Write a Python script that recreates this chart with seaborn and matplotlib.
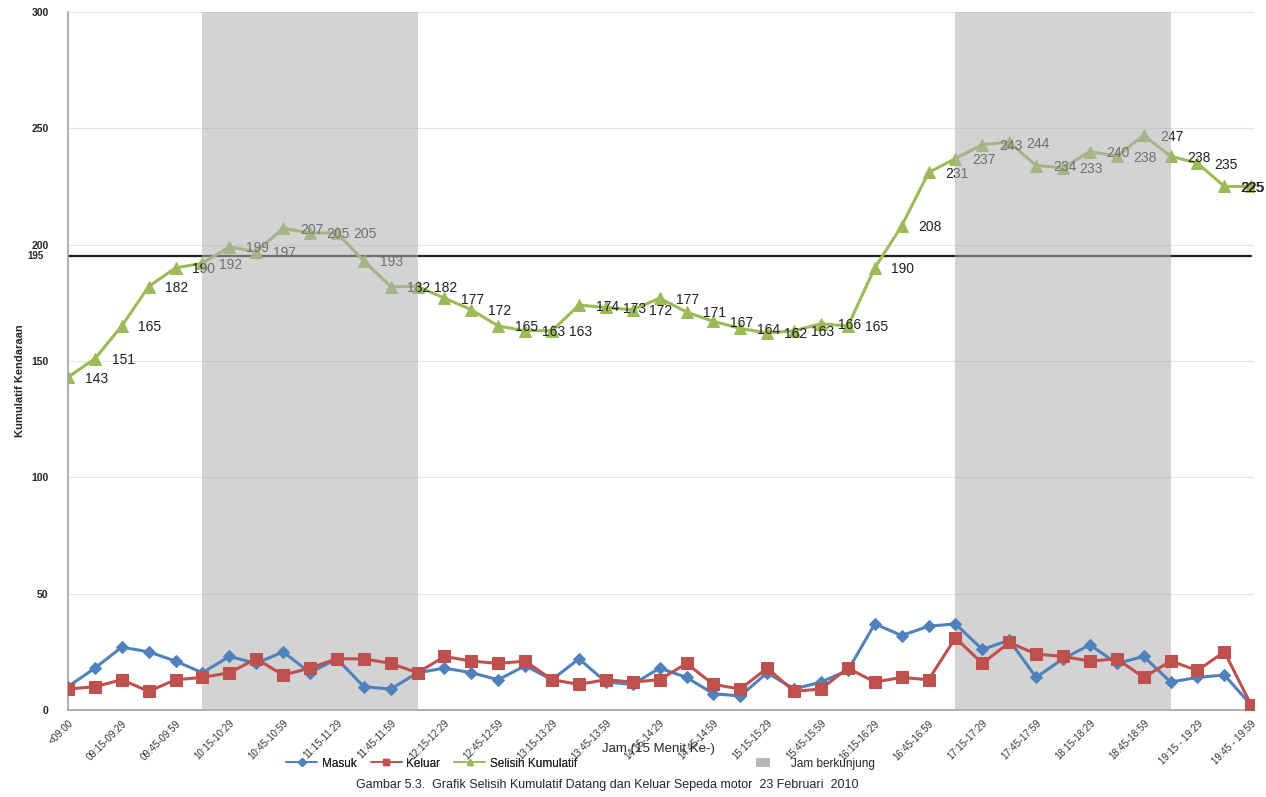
import matplotlib
matplotlib.use("Agg")
import matplotlib.pyplot as plt
from matplotlib.patches import Patch
from matplotlib.lines import Line2D
import numpy as np
import pandas as pd
import seaborn as sns

# 15-minute observation slots
slots = ["<09:00"] + [
    f"{9 + m // 60:02d}:{m % 60:02d}-{9 + m // 60:02d}:{m % 60 + 14:02d}"
    for m in range(0, 660, 15)
]
slots[-3] = "19:15 - 19:29"
slots[-1] = "19:45 - 19:59"

# Motorcycles entering / leaving per slot
masuk = [10, 18, 27, 25, 21, 16, 23, 20, 25, 16, 22, 10, 9, 16, 18, 16, 13, 19, 13, 22,
         12, 11, 18, 14, 7, 6, 16, 9, 12, 17, 37, 32, 36, 37, 26, 30, 14, 22, 28, 20,
         23, 12, 14, 15, 2]
keluar = [9, 10, 13, 8, 13, 14, 16, 22, 15, 18, 22, 22, 20, 16, 23, 21, 20, 21, 13, 11,
          13, 12, 13, 20, 11, 9, 18, 8, 9, 18, 12, 14, 13, 31, 20, 29, 24, 23, 21, 22,
          14, 21, 17, 25, 2]
# Cumulative difference (vehicles parked)
selisih = [143, 151, 165, 182, 190, 192, 199, 197, 207, 205, 205, 193, 182, 182, 177, 172,
           165, 163, 163, 174, 173, 172, 177, 171, 167, 164, 162, 163, 166, 165, 190, 208,
           231, 237, 243, 244, 234, 233, 240, 238, 247, 238, 235, 225, 225]
kapasitas = 195
# Visiting hours, as slot index ranges
jam_berkunjung = [(5, 13), (33, 41)]

df = pd.DataFrame({"slot": np.arange(len(slots)), "masuk": masuk,
                   "keluar": keluar, "selisih": selisih})
df["kapasitas"] = kapasitas

sns.set_theme(style="white")
plt.rcParams["font.family"] = ["Liberation Sans", "DejaVu Sans"]

BLUE, RED, GREEN = "#4F81BD", "#C0504D", "#9BBB59"

fig = plt.figure(figsize=(12.66, 7.97), dpi=100)
ax = fig.add_axes([0.0537, 0.1092, 0.9368, 0.8758])

# cumulative line, capacity line and labels sit under the shading
sns.lineplot(data=df, x="slot", y="kapasitas", ax=ax, color="#202020", lw=1.6, zorder=2)
sns.lineplot(data=df, x="slot", y="selisih", ax=ax, color=GREEN, lw=2.2,
             marker="^", markersize=8, markeredgecolor=GREEN, zorder=2)
n = len(selisih)
for i, v in enumerate(selisih):
    if i == n - 1:
        ax.annotate(str(v), (i, v), xytext=(9, -1), textcoords="offset points",
                    ha="right", va="center", fontsize=10, color="#202020", zorder=2,
                    annotation_clip=False)
    else:
        ax.annotate(str(v), (i, v), xytext=(12, -1), textcoords="offset points",
                    ha="left", va="center", fontsize=10, color="#202020", zorder=2)

for a, b in jam_berkunjung:
    ax.axvspan(a, b, ymin=0, ymax=1, color="#b0b0b0", alpha=0.55, lw=0, zorder=3)

sns.lineplot(data=df, x="slot", y="masuk", ax=ax, color=BLUE, lw=2.2,
             marker="D", markersize=6, markeredgecolor=BLUE, zorder=4)
sns.lineplot(data=df, x="slot", y="keluar", ax=ax, color=RED, lw=2.2,
             marker="s", markersize=8, markeredgecolor=RED, zorder=5)

ax.set_xlim(0, 44.1)
ax.set_ylim(0, 300)
ax.set_yticks(range(0, 301, 50))
ax.yaxis.grid(True, color="#e4e4e4", lw=0.8)
ax.set_axisbelow(True)
for s in ["top", "right"]:
    ax.spines[s].set_visible(False)
ax.spines["left"].set_color("#a6a6a6")
ax.spines["bottom"].set_color("#a6a6a6")
ax.tick_params(axis="y", length=0, pad=14, labelsize=7.5)
for t in ax.get_yticklabels():
    t.set_fontweight("bold")

ax.set_xticks(np.arange(0, len(slots), 2))
ax.set_xticklabels(slots[::2], rotation=45, ha="right", rotation_mode="anchor",
                   fontsize=7, color="#333333")
ax.tick_params(axis="x", length=0, pad=6)
ax.set_xlabel("")
ax.set_ylabel("")

# capacity label left of the axis
ax.text(-0.9, kapasitas, str(kapasitas), fontsize=7, fontweight="bold",
        ha="right", va="center", transform=ax.transData, clip_on=False)

fig.text(0.016, 0.523, "Kumulatif Kendaraan", rotation=90, ha="center", va="center",
         fontsize=8, fontweight="bold")
fig.text(0.52, 0.060, "Jam (15 Menit Ke-)", ha="center", va="center", fontsize=9.5)

series_handles = [
    Line2D([], [], color=BLUE, marker="D", markersize=4, lw=1.2),
    Line2D([], [], color=RED, marker="s", markersize=5, lw=1.2),
    Line2D([], [], color=GREEN, marker="^", markersize=5, lw=1.2),
]
leg = fig.legend(series_handles, ["Masuk", "Keluar", "Selisih Kumulatif"],
                 loc="center", bbox_to_anchor=(0.341, 0.042), ncol=3, frameon=False,
                 fontsize=8.5, columnspacing=1.2, handlelength=2.6, handletextpad=0.4)
fig.add_artist(leg)
fig.legend([Patch(facecolor="#b8b8b8", edgecolor="none")], ["Jam berkunjung"],
           loc="center", bbox_to_anchor=(0.644, 0.042), frameon=False,
           fontsize=8.5, handlelength=1.2, handletextpad=1.8)

fig.text(0.48, 0.015, "Gambar 5.3.  Grafik Selisih Kumulatif Datang dan Keluar Sepeda motor  23 Februari  2010",
         ha="center", va="center", fontsize=9)

fig.savefig("out.png", dpi=100)
